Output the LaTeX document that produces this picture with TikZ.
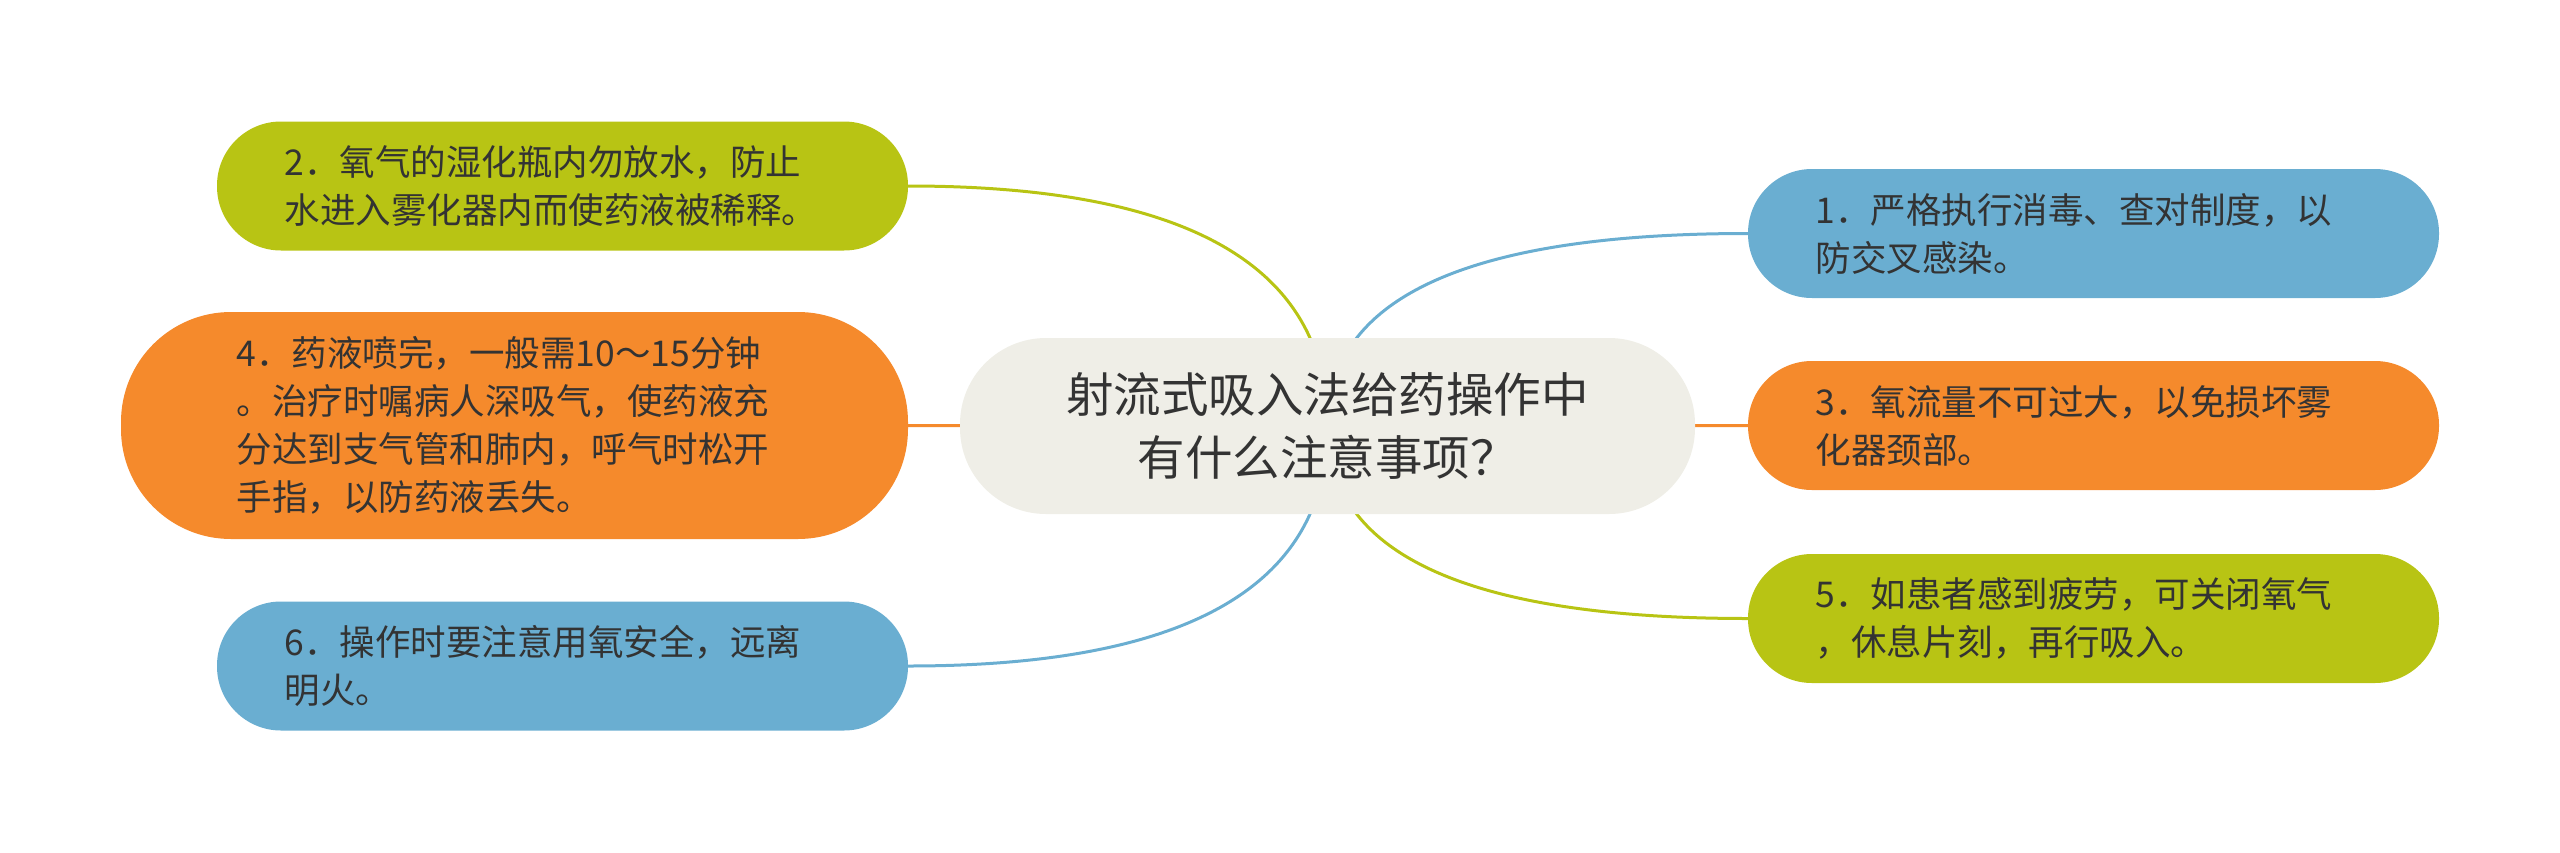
\documentclass[tikz,border=0pt]{standalone}
\usepackage{fontspec}
\setmainfont{Noto Sans CJK SC}
\usetikzlibrary{backgrounds,calc}
\definecolor{cgreen}{RGB}{184,196,20}
\definecolor{corange}{RGB}{245,138,44}
\definecolor{cblue}{RGB}{106,174,209}
\definecolor{ccenter}{RGB}{239,238,231}
\definecolor{ctext}{RGB}{51,51,51}
\begin{document}
\begin{tikzpicture}[x=1pt,y=-1pt,
  box/.style={fill=#1, rounded corners=64pt, minimum width=691pt, minimum height=129pt,
    inner sep=0pt, text width=556pt, align=left, text=ctext, font=\fontsize{35.5}{48}\selectfont},
  bigbox/.style={box=#1, rounded corners=110pt, minimum width=787pt, minimum height=227pt},
  hub/.style={fill=ccenter, rounded corners=86pt, minimum width=735pt, minimum height=176pt,
    inner sep=0pt, align=center, text=ctext, font=\fontsize{47.5}{63}\selectfont},
  link/.style={draw=#1, line width=3pt}]
\useasboundingbox (0,0) rectangle (2560,852);
\node[hub] (c) at (1327.5,426) {射流式吸入法给药操作中\\有什么注意事项？};
\node[box=cgreen] (b2) at (562.5,186) {2．氧气的湿化瓶内勿放水，防止\\水进入雾化器内而使药液被稀释。};
\node[bigbox=corange] (b4) at (514.5,425.5) {4．药液喷完，一般需10～15分钟\\。治疗时嘱病人深吸气，使药液充\\分达到支气管和肺内，呼气时松开\\手指，以防药液丢失。};
\node[box=cblue] (b6) at (562.5,666) {6．操作时要注意用氧安全，远离\\明火。};
\node[box=cblue] (b1) at (2093.5,233.5) {1．严格执行消毒、查对制度，以\\防交叉感染。};
\node[box=corange] (b3) at (2093.5,425.5) {3．氧流量不可过大，以免损坏雾\\化器颈部。};
\node[box=cgreen] (b5) at (2093.5,618.5) {5．如患者感到疲劳，可关闭氧气\\，休息片刻，再行吸入。};
\begin{pgfonlayer}{background}
\draw[link=cgreen] (c.center) .. controls ($(c.center)!2/3!(c.center |- b2.east)$) and ($(b2.east)!2/3!(c.center |- b2.east)$) .. (b2.east);
\draw[link=corange] (c.center) -- (b4.east);
\draw[link=cblue] (c.center) .. controls ($(c.center)!2/3!(c.center |- b6.east)$) and ($(b6.east)!2/3!(c.center |- b6.east)$) .. (b6.east);
\draw[link=cblue] (c.center) .. controls ($(c.center)!2/3!(c.center |- b1.west)$) and ($(b1.west)!2/3!(c.center |- b1.west)$) .. (b1.west);
\draw[link=corange] (c.center) -- (b3.west);
\draw[link=cgreen] (c.center) .. controls ($(c.center)!2/3!(c.center |- b5.west)$) and ($(b5.west)!2/3!(c.center |- b5.west)$) .. (b5.west);
\end{pgfonlayer}
\end{tikzpicture}
\end{document}
